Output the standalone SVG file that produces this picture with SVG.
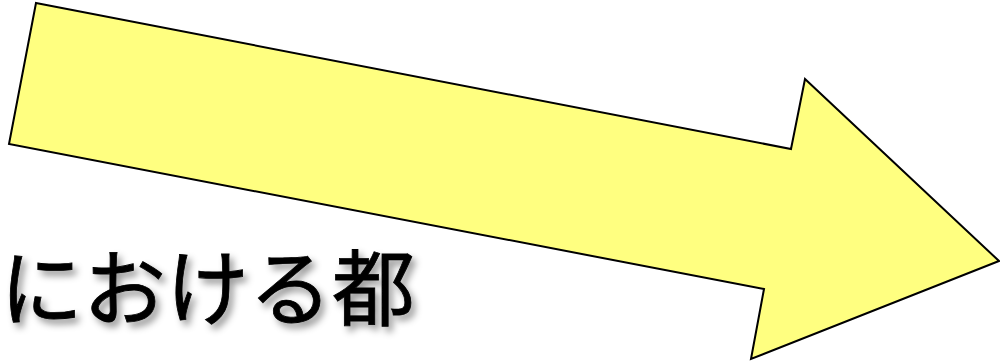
<svg xmlns="http://www.w3.org/2000/svg" width="1000" height="362" viewBox="0 0 1000 362">
<defs>
<style>
.arrow{fill:#ffff80;stroke:#000;stroke-width:2;stroke-linejoin:miter}
.title{font-family:"Noto Sans CJK JP","Noto Sans CJK SC",sans-serif;font-size:83px;font-weight:400;fill:#000;stroke:#000;stroke-width:0.8}
</style>
<filter id="shadow" x="-10%" y="-30%" width="120%" height="160%">
<feDropShadow dx="4" dy="5" stdDeviation="3.5" flood-color="#000" flood-opacity="0.4"/>
</filter>
</defs>
<g id="arrow">
<polygon class="arrow" points="36,3 791,149 805,79 999,261 751,359 764,289 9,144"/>
</g>
<g id="label">
<text class="title" x="0" y="319" filter="url(#shadow)">における都</text>
</g>
</svg>
